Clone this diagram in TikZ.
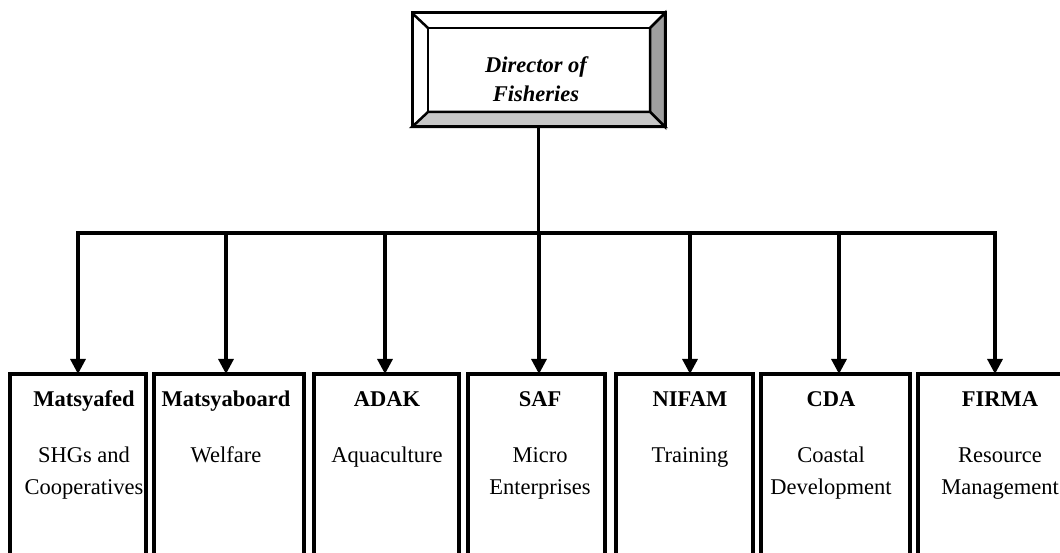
\documentclass[tikz,border=0pt]{standalone}
\usepackage{fontspec}
\setmainfont{Liberation Serif}
\usetikzlibrary{arrows.meta}

\begin{document}
\begin{tikzpicture}[x=1pt,y=1pt,
  orgbox/.style={draw, line width=4pt, minimum height=230pt, anchor=north west, inner sep=0pt, outer sep=0pt},
  title/.style={font=\fontsize{22.5}{32}\selectfont\bfseries, anchor=base},
  task/.style={font=\fontsize{22.5}{32}\selectfont, anchor=base, align=center},
  link/.style={line width=3.2pt},
  >={Triangle[width=15pt,length=15pt]}]
\clip (0,0) rectangle (1060,553);
% director
\node[draw, line width=3pt, minimum width=253pt, minimum height=114pt, inner sep=0pt, outer sep=0pt] (dir) at (538.5,483) {};
\node[minimum width=222pt, minimum height=84pt, inner sep=0pt, outer sep=0pt] (dirin) at (539,483) {};
\filldraw [fill=gray!75, line width=2.5pt, line join=miter] (dir.north east) -- (dirin.north east) -- (dirin.south east) -- (dir.south east) -- cycle;
\filldraw [fill=gray!45, line width=2.5pt, line join=miter] (dir.south west) -- (dirin.south west) -- (dirin.south east) -- (dir.south east) -- cycle;
\draw [line width=2.5pt] (dirin.south west) rectangle (dirin.north east);
\draw [line width=2.5pt] (dir.north west) -- (dirin.north west);
\draw [line width=3pt] (dir.south west) rectangle (dir.north east);
\node[font=\fontsize{22.5}{29}\selectfont\bfseries\itshape, align=center, anchor=base] (dirtxt) at (536,451) {Director of\\Fisheries};
% bus
\coordinate (hub) at (538.5,320);
\coordinate (a1) at (78,320);
\coordinate (a2) at (226,320);
\coordinate (a3) at (385,320);
\coordinate (a4) at (539,320);
\coordinate (a5) at (690,320);
\coordinate (a6) at (839,320);
\coordinate (a7) at (995,320);
\draw [link] (dir.south) -- (hub);
\draw [link, line cap=rect] (a1) -- (a7);
% units
\node[orgbox, minimum width=136pt] (b1) at (10,179) {};
\node[orgbox, minimum width=150pt] (b2) at (154,179) {};
\node[orgbox, minimum width=145pt] (b3) at (314,179) {};
\node[orgbox, minimum width=136.5pt] (b4) at (468,179) {};
\node[orgbox, minimum width=137pt] (b5) at (616,179) {};
\node[orgbox, minimum width=148.7pt] (b6) at (761,179) {};
\node[orgbox, minimum width=160pt] (b7) at (918,179) {};
\foreach \i in {1,...,7}
  \draw [link, ->] (a\i) -- (a\i |- b\i.north);
\node[title] (n1) at (84,146) {Matsyafed};
\node[title] (n2) at (226,146) {Matsyaboard};
\node[title] (n3) at (387,146) {ADAK};
\node[title] (n4) at (540,146) {SAF};
\node[title] (n5) at (690,146) {NIFAM};
\node[title] (n6) at (831,146) {CDA};
\node[title] (n7) at (1000,146) {FIRMA};
\node[task] (d1) at (84,58) {SHGs and\\Cooperatives};
\node[task] (d2) at (226,90) {Welfare};
\node[task] (d3) at (387,90) {Aquaculture};
\node[task] (d4) at (540,58) {Micro\\Enterprises};
\node[task] (d5) at (690,90) {Training};
\node[task] (d6) at (831,58) {Coastal\\Development};
\node[task] (d7) at (1000,58) {Resource\\Management};
\end{tikzpicture}
\end{document}
